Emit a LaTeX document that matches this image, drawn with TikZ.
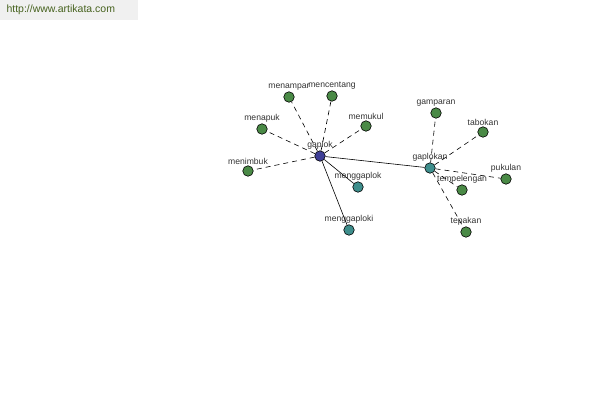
\documentclass[tikz,border=0pt]{standalone}
\usepackage{fontspec}
\setmainfont{Liberation Sans}
\usepackage{tikz}
\usetikzlibrary{
    arrows.meta,
    positioning
}
\definecolor{rootblue}{RGB}{62,62,150}
\definecolor{derivteal}{RGB}{62,142,140}
\definecolor{wordgreen}{RGB}{74,138,70}
\definecolor{tagcolor}{RGB}{70,98,30}
\definecolor{lblgray}{RGB}{50,50,50}

\begin{document}
\begin{tikzpicture}[
x=1pt, y=-1pt,
dot/.style={
draw=black,
circle,
inner sep=0pt,
minimum size=10.5pt,
line width=0.6pt,
label={[font=\fontsize{8.6}{9}\selectfont, text=lblgray, inner sep=1pt, label distance=-0.5pt]above:#1}
},
rootdot/.style={dot=#1, fill=rootblue},
deriv/.style={dot=#1, fill=derivteal},
word/.style={dot=#1, fill=wordgreen},
syn/.style={dash pattern=on 5pt off 4pt, line width=0.6pt},
link/.style={line width=0.6pt}
]

\useasboundingbox (0,0) rectangle (600,400);

% watermark
\fill[black!6] (0,0) rectangle (138,20);
\node[font=\fontsize{10.5}{12}\selectfont, text=tagcolor, anchor=west] (site)
at (3,10) {http://www.artikata.com};

% words
\node[rootdot=gaplok] (gaplok) at (320,156) {};
\node[deriv=gaplokan] (gaplokan) at (430,168) {};
\node[deriv=menggaplok] (menggaplok) at (358,187) {};
\node[deriv=menggaploki] (menggaploki) at (349,230) {};

\node[word=menampar] (menampar) at (289,97) {};
\node[word=mencentang] (mencentang) at (332,96) {};
\node[word=memukul] (memukul) at (366,126) {};
\node[word=menapuk] (menapuk) at (262,129) {};
\node[word=menimbuk] (menimbuk) at (248,171) {};

\node[word=gamparan] (gamparan) at (436,113) {};
\node[word=tabokan] (tabokan) at (483,132) {};
\node[word=pukulan] (pukulan) at (506,179) {};
\node[word=tempelengan] (tempelengan) at (462,190) {};
\node[word=tepakan] (tepakan) at (466,232) {};

% links
\draw[link] (gaplok) -- (gaplokan);
\draw[link] (gaplok) -- (menggaplok);
\draw[link] (gaplok) -- (menggaploki);

\foreach \w in {menampar, mencentang, memukul, menapuk, menimbuk}
  \draw[syn] (gaplok) -- (\w);
\foreach \w in {gamparan, tabokan, pukulan, tempelengan, tepakan}
  \draw[syn] (gaplokan) -- (\w);

\end{tikzpicture}
\end{document}
